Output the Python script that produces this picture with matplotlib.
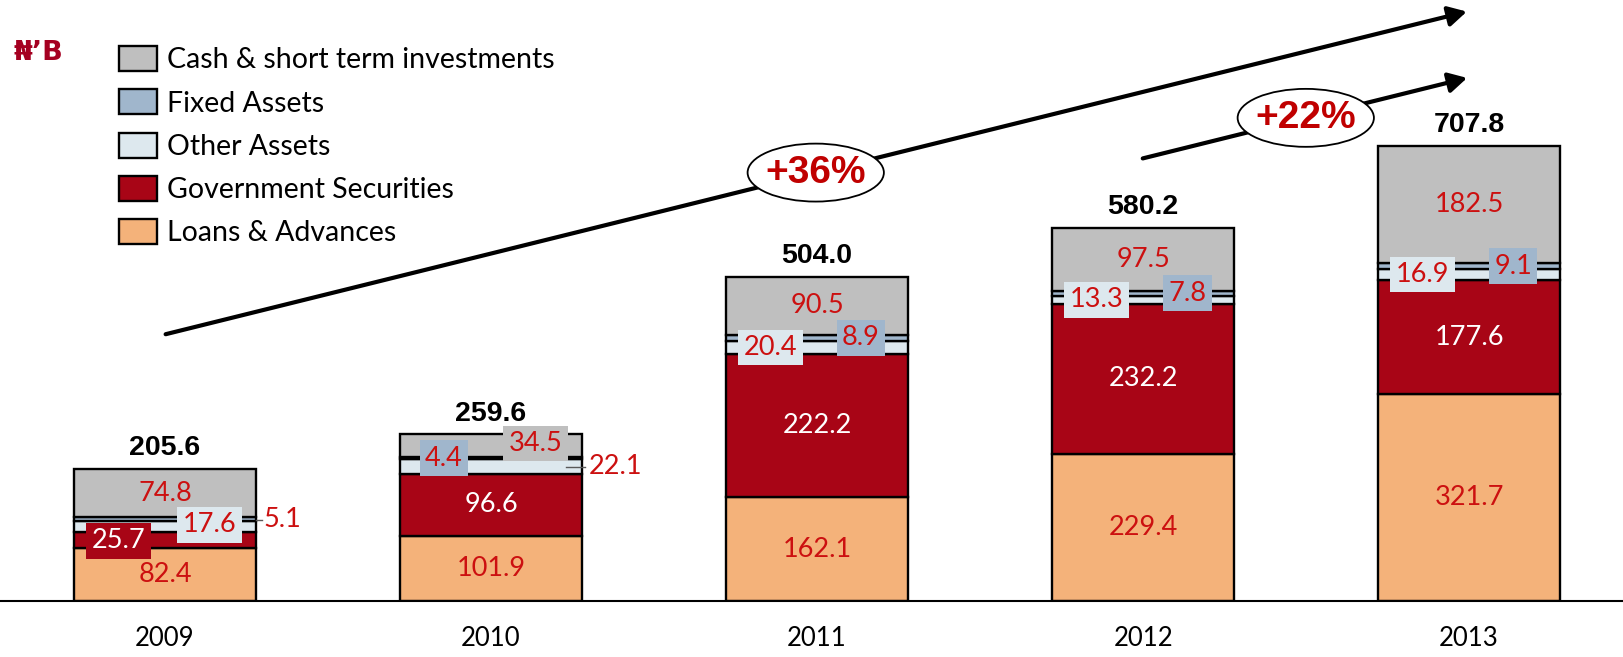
import numpy as np
import matplotlib
matplotlib.use('Agg')
import matplotlib.pyplot as plt
from matplotlib.patches import Ellipse

# data (N'B)
years = ['2009', '2010', '2011', '2012', '2013']
loans = [82.4, 101.9, 162.1, 229.4, 321.7]
gov_sec = [25.7, 96.6, 222.2, 232.2, 177.6]
other_assets = [17.6, 22.1, 20.4, 13.3, 16.9]
fixed_assets = [5.1, 4.4, 8.9, 7.8, 9.1]
cash = [74.8, 34.5, 90.5, 97.5, 182.5]
totals = ['205.6', '259.6', '504.0', '580.2', '707.8']
growth = ['+36%', '+22%']

series = [
    ('Loans & Advances', loans, '#F4B27A'),
    ('Government Securities', gov_sec, '#A80516'),
    ('Other Assets', other_assets, '#DDE8EE'),
    ('Fixed Assets', fixed_assets, '#A0B6CC'),
    ('Cash & short term investments', cash, '#BFBFBF'),
]

red_txt = '#CC1010'
reg = ['Lato', 'DejaVu Sans']
bold = ['Liberation Sans', 'DejaVu Sans']

fig = plt.figure(figsize=(16.23, 6.57), dpi=100)
ax = fig.add_axes([0, 0.0845, 1, 0.9155])
ax.set_xlim(-0.506, 4.472)
ax.set_ylim(0, 934)

x = np.arange(len(years))
w = 0.558
hw = w / 2
bottom = np.zeros(len(years))
bars = []
segs = {}
for name, vals, col in series:
    vals = np.array(vals)
    b = ax.bar(x, vals, w, bottom=bottom, color=col, edgecolor='black', lw=1.7, zorder=2, label=name)
    bars.append(b)
    segs[name] = (bottom.copy(), vals)
    bottom = bottom + vals

for s in ['top', 'left', 'right']:
    ax.spines[s].set_visible(False)
ax.spines['bottom'].set_linewidth(1.5)
ax.set_yticks([])
ax.set_xticks(x)
ax.set_xticklabels(years, family=reg, fontsize=18.5)
ax.tick_params(axis='x', length=0, pad=18)


def mid(name, i):
    b, v = segs[name]
    return b[i] + v[i] / 2


def lab(xx, yy, s, color=red_txt, box=None, ha='center'):
    kw = dict(ha=ha, va='center', family=reg, fontsize=19.5, color=color, zorder=6)
    if box is not None:
        kw['bbox'] = dict(boxstyle='square,pad=0.2', fc=box, ec='none')
    ax.text(xx, yy, s, **kw)


cols = {n: c for n, _, c in series}
for i in range(len(years)):
    # loans & gov securities in the middle
    lab(x[i], mid('Loans & Advances', i), f'{loans[i]:.1f}')
    if i == 0:
        lab(x[i] - 0.143, mid('Government Securities', i) - 1, f'{gov_sec[i]:.1f}', color='white', box=cols['Government Securities'])
    else:
        lab(x[i], mid('Government Securities', i), f'{gov_sec[i]:.1f}', color='white')
    # cash
    if i == 1:
        lab(x[i] + 0.137, mid('Cash & short term investments', i) + 3, f'{cash[i]:.1f}', box=cols['Cash & short term investments'])
    else:
        lab(x[i], mid('Cash & short term investments', i), f'{cash[i]:.1f}')
    # other / fixed
    if i == 0:
        lab(x[i] + 0.136, mid('Other Assets', i) + 2, f'{other_assets[i]:.1f}', box=cols['Other Assets'])
        ym = mid('Fixed Assets', i) - 1.5
        ax.plot([x[i] + hw, x[i] + hw + 0.02], [ym, ym], color='#595959', lw=1, zorder=3)
        lab(x[i] + hw + 0.024, ym, f'{fixed_assets[i]:.1f}', ha='left')
    elif i == 1:
        lab(x[i] - 0.144, mid('Fixed Assets', i), f'{fixed_assets[i]:.1f}', box=cols['Fixed Assets'])
        ym = mid('Other Assets', i)
        ax.plot([x[i] + hw - 0.05, x[i] + hw + 0.01], [ym, ym], color='#595959', lw=1, zorder=3)
        lab(x[i] + hw + 0.02, ym, f'{other_assets[i]:.1f}', ha='left')
    else:
        lab(x[i] - 0.143, mid('Other Assets', i), f'{other_assets[i]:.1f}', box=cols['Other Assets'])
        lab(x[i] + 0.135, mid('Fixed Assets', i), f'{fixed_assets[i]:.1f}', box=cols['Fixed Assets'])
    # totals
    ax.text(x[i], bottom[i] + 32, totals[i], ha='center', va='center', family=bold,
            fontsize=20.5, weight='bold', color='black', zorder=6)

# growth arrows
arrow_kw = dict(arrowstyle='-|>,head_length=0.55,head_width=0.3', color='black', lw=3,
                mutation_scale=20, shrinkA=0, shrinkB=0)
ax.annotate('', xy=(3.993, 916), xytext=(0.002, 415), arrowprops=arrow_kw, zorder=3)
ax.annotate('', xy=(3.994, 813), xytext=(2.999, 688), arrowprops=arrow_kw, zorder=3)
for (ex, ey), g in zip([(1.996, 666), (3.499, 751)], growth):
    ax.add_patch(Ellipse((ex, ey), 0.418, 90, fc='white', ec='black', lw=1.3, zorder=4))
    ax.text(ex, ey, g, ha='center', va='center', family=bold, fontsize=28, weight='bold',
            color='#C00000', zorder=5)

# legend
h = bars[::-1]
ax.legend(h, [b.get_label() for b in h], loc='upper left',
          bbox_to_anchor=(119 / 1623, 1 - 46 / 657), bbox_transform=fig.transFigure,
          frameon=False, prop={'family': reg, 'size': 20.5}, handlelength=1.33,
          handleheight=0.98, handletextpad=0.35, labelspacing=0.56, borderpad=0,
          borderaxespad=0)

fig.text(13 / 1623, 1 - 53 / 657, '\u20a6\u2019B', ha='left', va='center', fontsize=19.5,
         weight='bold', color='#A50021', family='DejaVu Sans')

fig.savefig('out.png', dpi=100)
